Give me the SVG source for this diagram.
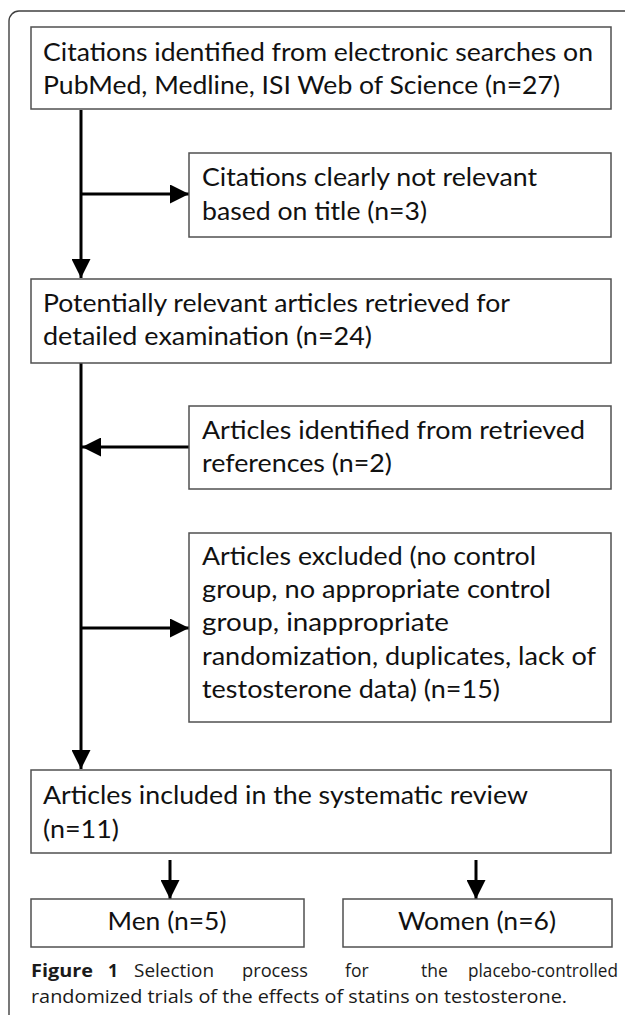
<svg xmlns="http://www.w3.org/2000/svg" width="625" height="1015" viewBox="0 0 625 1015">
<style>
.box{fill:#ffffff;stroke:#505050;stroke-width:1.5}
.t{font-family:Lato,"Open Sans","Liberation Sans",sans-serif;font-size:25px;fill:#111111}
.c{font-family:"Open Sans","Liberation Sans",sans-serif;font-size:17.5px;fill:#1a1a1a}
.cb{font-weight:bold}
.ln{fill:none;stroke:#000000;stroke-width:3}
.frame{fill:none;stroke:#404040;stroke-width:1.4}
</style>
<defs>
<marker id="ah" markerUnits="userSpaceOnUse" markerWidth="19" markerHeight="19" viewBox="0 0 19 19" refX="19" refY="9.5" orient="auto">
<path d="M0,0 L19,9.5 L0,19 Z" fill="#000000"/>
</marker>
</defs>
<rect width="625" height="1015" fill="#ffffff"/>
<path class="frame" d="M9,1015 V21 A10,10 0 0 1 19,11 H625"/>

<g id="connectors">
<line class="ln" x1="81" y1="110" x2="81" y2="278" marker-end="url(#ah)"/>
<line class="ln" x1="81" y1="194" x2="189" y2="194" marker-end="url(#ah)"/>
<line class="ln" x1="81" y1="363" x2="81" y2="769" marker-end="url(#ah)"/>
<line class="ln" x1="189" y1="447" x2="82" y2="447" marker-end="url(#ah)"/>
<line class="ln" x1="81" y1="628" x2="189" y2="628" marker-end="url(#ah)"/>
<line class="ln" x1="170" y1="860" x2="170" y2="899" marker-end="url(#ah)"/>
<line class="ln" x1="476" y1="860" x2="476" y2="899" marker-end="url(#ah)"/>
</g>

<g id="n1">
<rect class="box" x="31" y="27" width="580" height="82"/>
<text class="t" x="43" y="61" textLength="550" lengthAdjust="spacingAndGlyphs">Citations identified from electronic searches on</text>
<text class="t" x="43" y="94" textLength="517" lengthAdjust="spacingAndGlyphs">PubMed, Medline, ISI Web of Science (n=27)</text>
</g>

<g id="n2">
<rect class="box" x="189" y="153" width="422" height="84"/>
<text class="t" x="202" y="186" textLength="335" lengthAdjust="spacingAndGlyphs">Citations clearly not relevant</text>
<text class="t" x="202" y="220" textLength="225" lengthAdjust="spacingAndGlyphs">based on title (n=3)</text>
</g>

<g id="n3">
<rect class="box" x="31" y="279" width="580" height="84"/>
<text class="t" x="43" y="312" textLength="467" lengthAdjust="spacingAndGlyphs">Potentially relevant articles retrieved for</text>
<text class="t" x="43" y="345" textLength="329" lengthAdjust="spacingAndGlyphs">detailed examination (n=24)</text>
</g>

<g id="n4">
<rect class="box" x="189" y="406" width="422" height="83"/>
<text class="t" x="202" y="439" textLength="383" lengthAdjust="spacingAndGlyphs">Articles identified from retrieved</text>
<text class="t" x="202" y="472" textLength="190" lengthAdjust="spacingAndGlyphs">references (n=2)</text>
</g>

<g id="n5">
<rect class="box" x="189" y="533" width="422" height="189"/>
<text class="t" x="202" y="565" textLength="334" lengthAdjust="spacingAndGlyphs">Articles excluded (no control</text>
<text class="t" x="202" y="598" textLength="349" lengthAdjust="spacingAndGlyphs">group, no appropriate control</text>
<text class="t" x="202" y="631" textLength="247" lengthAdjust="spacingAndGlyphs">group, inappropriate</text>
<text class="t" x="202" y="665" textLength="394" lengthAdjust="spacingAndGlyphs">randomization, duplicates, lack of</text>
<text class="t" x="202" y="698" textLength="298" lengthAdjust="spacingAndGlyphs">testosterone data) (n=15)</text>
</g>

<g id="n6">
<rect class="box" x="31" y="770" width="580" height="83"/>
<text class="t" x="43" y="804" textLength="485" lengthAdjust="spacingAndGlyphs">Articles included in the systematic review</text>
<text class="t" x="43" y="838" textLength="76" lengthAdjust="spacingAndGlyphs">(n=11)</text>
</g>

<g id="n7">
<rect class="box" x="31" y="899" width="273" height="48"/>
<text class="t" x="167" y="930" text-anchor="middle" textLength="119" lengthAdjust="spacingAndGlyphs">Men (n=5)</text>
</g>

<g id="n8">
<rect class="box" x="343" y="899" width="269" height="48"/>
<text class="t" x="477" y="930" text-anchor="middle" textLength="158" lengthAdjust="spacingAndGlyphs">Women (n=6)</text>
</g>

<g id="caption">
<text class="c cb" x="31" y="977" textLength="62" lengthAdjust="spacingAndGlyphs">Figure</text>
<text class="c cb" x="108" y="977">1</text>
<text class="c" x="134" y="977" textLength="80" lengthAdjust="spacingAndGlyphs">Selection</text>
<text class="c" x="242" y="977" textLength="66" lengthAdjust="spacingAndGlyphs">process</text>
<text class="c" x="345" y="977">for</text>
<text class="c" x="421" y="977">the</text>
<text class="c" x="618" y="977" text-anchor="end" textLength="150" lengthAdjust="spacingAndGlyphs">placebo-controlled</text>
<text class="c" x="31" y="1003" textLength="536" lengthAdjust="spacingAndGlyphs">randomized trials of the effects of statins on testosterone.</text>
</g>
</svg>
